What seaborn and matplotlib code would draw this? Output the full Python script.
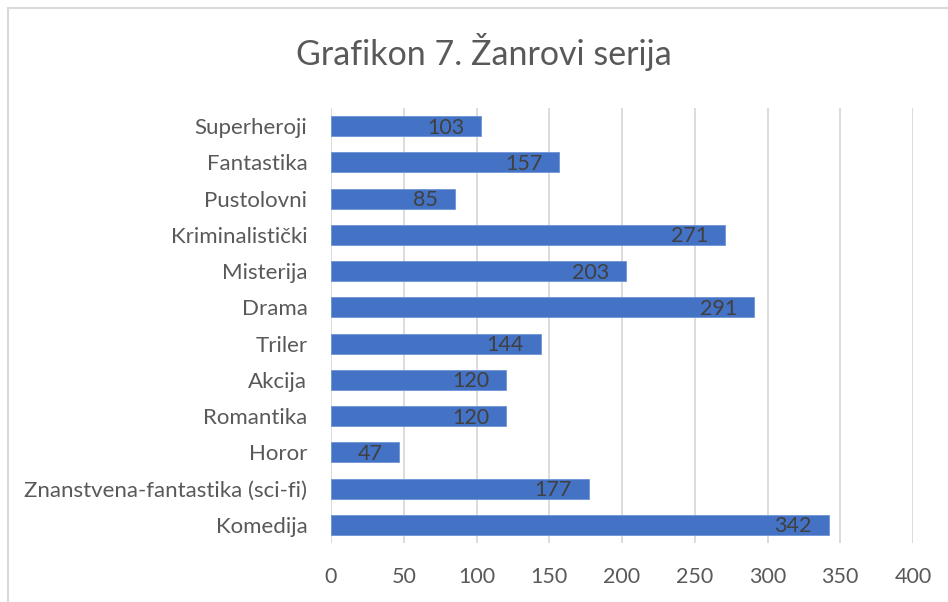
import pandas as pd
import matplotlib.pyplot as plt
import seaborn as sns
from matplotlib.patches import Rectangle

# podaci
zanrovi = ['Superheroji', 'Fantastika', 'Pustolovni', 'Kriminalistički', 'Misterija',
           'Drama', 'Triler', 'Akcija', 'Romantika', 'Horor',
           'Znanstvena-fantastika (sci-fi)', 'Komedija']
broj = [103, 157, 85, 271, 203, 291, 144, 120, 120, 47, 177, 342]
x_ticks = [0, 50, 100, 150, 200, 250, 300, 350, 400]


def main():
    df = pd.DataFrame({'zanr': zanrovi, 'broj': broj})

    sns.set_theme(style='white')
    plt.rcParams['font.family'] = ['Lato', 'DejaVu Sans']

    fig = plt.figure(figsize=(9.48, 6.02), dpi=100)
    ax = fig.add_axes([331 / 948, 1 - 543 / 602, (913 - 331) / 948, (543 - 108) / 602])

    sns.barplot(data=df, x='broj', y='zanr', order=zanrovi, color='#4472C4',
                saturation=1, width=0.55, edgecolor='#6E95D6', linewidth=0.6, ax=ax)

    # oznake vrijednosti unutar kraja trake
    for p, v in zip(ax.patches, broj):
        ax.annotate(str(v), xy=(p.get_width(), p.get_y() + p.get_height() / 2),
                    xytext=(-12, -1), textcoords='offset points',
                    ha='right', va='center', fontsize=15.5, color='#404040')

    ax.set_xlim(0, 400)
    ax.set_ylim(11.5, -0.5)
    ax.set_xticks(x_ticks)
    ax.set_xlabel('')
    ax.set_ylabel('')
    ax.xaxis.grid(True, color='#D9D9D9', linewidth=1.3)
    ax.set_axisbelow(True)
    for s in ax.spines.values():
        s.set_visible(False)
    ax.tick_params(axis='x', labelsize=15.5, colors='#595959', length=0, pad=17)
    ax.tick_params(axis='y', labelsize=16, colors='#595959', length=0, pad=17)

    fig.text(484 / 948, 1 - 52 / 602, 'Grafikon 7. Žanrovi serija', ha='center', va='center',
             fontsize=24.5, color='#595959')

    # okvir grafikona
    fig.patches.append(Rectangle((8 / 948, -0.1), 1.2, 1 - 8 / 602 + 0.1,
                                 transform=fig.transFigure, fill=False,
                                 edgecolor='#D9D9D9', linewidth=1.5))

    fig.savefig('out.png', dpi=100)
    plt.close(fig)


if __name__ == '__main__':
    main()
